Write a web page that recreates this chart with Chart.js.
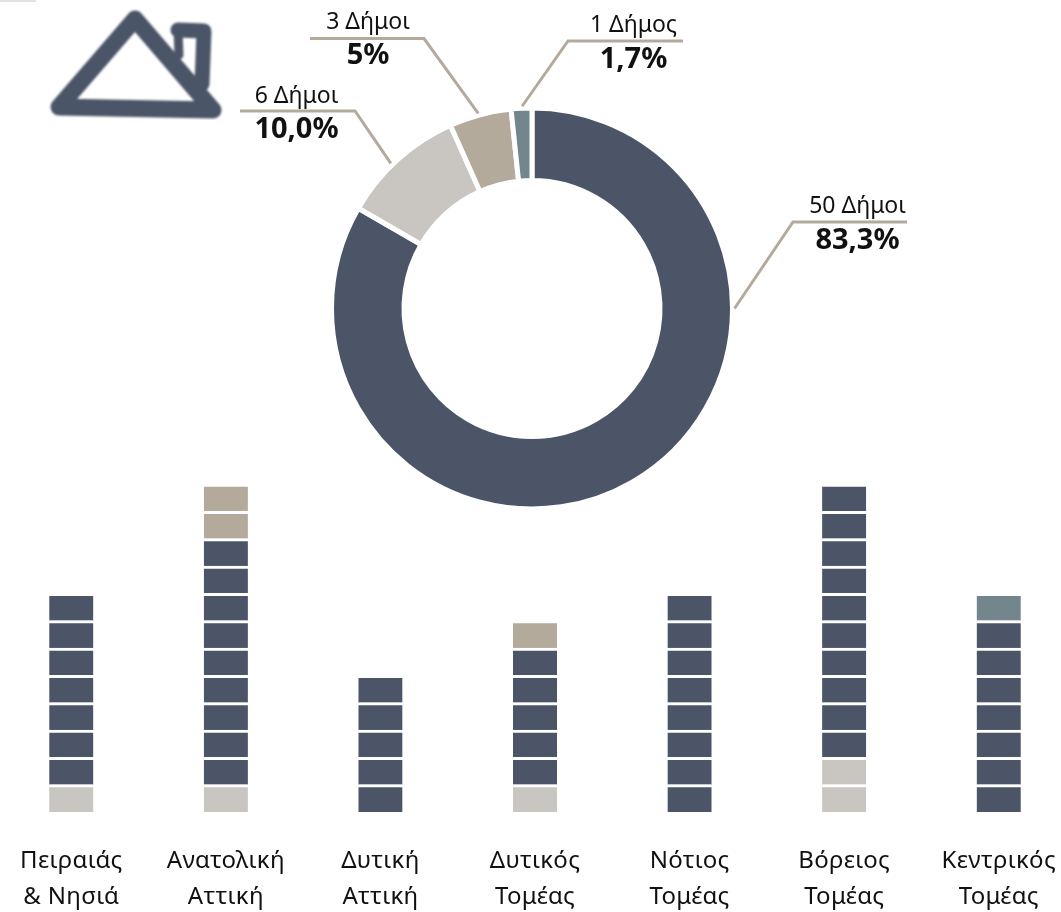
<!DOCTYPE html>
<html><head><meta charset="utf-8">
<script src="https://cdn.jsdelivr.net/npm/chart.js@4"></script>
<style>
html,body{margin:0;padding:0;background:#fff;width:1061px;height:912px;overflow:hidden}
#wrap{position:relative;width:1061px;height:912px;overflow:hidden}
#bars{position:absolute;left:-6px;top:0}
#donut{position:absolute;left:0;top:0}
#house{position:absolute;left:0;top:0}
</style></head><body>
<div id="wrap">
<svg id="house" width="260" height="140" aria-hidden="true">
<defs><filter id="b"><feGaussianBlur stdDeviation="1.2"/></filter></defs>
<path d="M0 0.5 L36 0.5" stroke="#e2e2e2" stroke-width="3" fill="none"/>
<g fill="none" stroke="#4c5468" stroke-linejoin="round" stroke-linecap="round" filter="url(#b)">
<path d="M135 19 L59 107 L213 110 Z" stroke-width="17"/>
<path d="M178 30 L179 55" stroke-width="9"/>
<path d="M178 30 L204 31 L202 84" stroke-width="15"/>
</g></svg>
<canvas id="bars" width="1082" height="912"></canvas>
<canvas id="donut" width="1061" height="912"></canvas>
</div>
<script>
const DARK='#4c5468',LIGHT='#c9c6c1',TAUPE='#b4aa9c',SLATE='#73858d',LINE='#b4aa9c';

// doughnut
const municipalCounts=[50,6,3,1];
const municipalLabels=['50 Δήμοι','6 Δήμοι','3 Δήμοι','1 Δήμος'];
const shareLabels=['83,3%','10,0%','5%','1,7%'];

// bars: unit cells per sector, stacked bottom to top
const sectors=[['Πειραιάς','& Νησιά'],['Ανατολική','Αττική'],['Δυτική','Αττική'],['Δυτικός','Τομέας'],['Νότιος','Τομέας'],['Βόρειος','Τομέας'],['Κεντρικός','Τομέας']];
const lightCells=[1,1,0,1,0,2,0];
const darkCells=[7,9,5,5,8,10,7];
const taupeCells=[0,2,0,1,0,0,0];
const slateCells=[0,0,0,0,0,0,1];

const FONT='"Noto Sans"';
const stackOrder=[[lightCells,LIGHT],[darkCells,DARK],[taupeCells,TAUPE],[slateCells,SLATE]];
const cellColours=sectors.map((_,i)=>{const out=[];stackOrder.forEach(([a,c])=>{for(let k=0;k<a[i];k++)out.push(c)});return out;});
const levels=Math.max(...cellColours.map(c=>c.length));
const barDatasets=[];
for(let k=0;k<levels;k++){
  barDatasets.push({
    data:cellColours.map(c=>k<c.length?1:null),
    backgroundColor:cellColours.map(c=>c[k]||'rgba(0,0,0,0)'),
    borderColor:'#ffffff',
    borderWidth:{top:3,bottom:0,left:0,right:0},
    borderSkipped:false,
    barThickness:44
  });
}
const spacingPlugin={id:'tickSpacing',beforeDraw(chart){chart.ctx.letterSpacing='0.3px';}};
new Chart(document.getElementById('bars'),{
  type:'bar',
  data:{labels:sectors,datasets:barDatasets},
  options:{responsive:false,animation:false,
    layout:{padding:{top:484,bottom:0,left:0,right:0}},
    plugins:{legend:{display:false},tooltip:{enabled:false}},
    scales:{
      x:{stacked:true,grid:{display:false},border:{display:false},
        afterFit(s){s.height=100;s.paddingLeft=0;s.paddingRight=0;},
        ticks:{color:'#111111',font:{family:FONT,size:24,lineHeight:1.5},padding:23,maxRotation:0,autoSkip:false}},
      y:{stacked:true,display:false,min:0,max:levels}
    }},
  plugins:[spacingPlugin]
});

// callouts: leader line and text placement for the doughnut labels
const callouts=[
 {anchorDeg:90,   lineFrom:907,elbow:[793,222],  textX:857.5,top:213,bottom:249},
 {anchorDeg:-44.2,lineFrom:240,elbow:[355,111],  textX:296.5,top:103,bottom:138},
 {anchorDeg:-15.4,lineFrom:310,elbow:[424,38.5], textX:368,  top:29, bottom:64},
 {anchorDeg:-2.8, lineFrom:683,elbow:[568,41],   textX:633.5,top:32, bottom:68}
];
const calloutPlugin={id:'callouts',afterDatasetsDraw(chart){
  const ctx=chart.ctx,meta=chart.getDatasetMeta(0);
  const a=meta.data[0];
  callouts.forEach((c,i)=>{
    const th=(c.anchorDeg-90)*Math.PI/180,r=a.outerRadius+2;
    ctx.save();
    ctx.strokeStyle=LINE;ctx.lineWidth=3;
    ctx.beginPath();
    ctx.moveTo(c.lineFrom,c.elbow[1]);
    ctx.lineTo(c.elbow[0],c.elbow[1]);
    ctx.lineTo(a.x+Math.cos(th)*r,a.y+Math.sin(th)*r);
    ctx.stroke();
    ctx.textAlign='center';ctx.textBaseline='alphabetic';ctx.fillStyle='#111111';
    ctx.font='23px '+FONT;
    ctx.fillText(municipalLabels[i],c.textX,c.top);
    ctx.font='bold 29px '+FONT;
    ctx.fillText(shareLabels[i],c.textX,c.bottom);
    ctx.restore();
  });
}};
new Chart(document.getElementById('donut'),{
  type:'doughnut',
  data:{labels:municipalLabels,datasets:[{data:municipalCounts,backgroundColor:[DARK,LIGHT,TAUPE,SLATE],borderColor:'#ffffff',borderWidth:5}]},
  options:{responsive:false,animation:false,radius:200.5,cutout:124.5,
    layout:{padding:{left:334,right:331,top:111,bottom:406}},
    plugins:{legend:{display:false},tooltip:{enabled:false}}},
  plugins:[calloutPlugin]
});
</script>
</body></html>
